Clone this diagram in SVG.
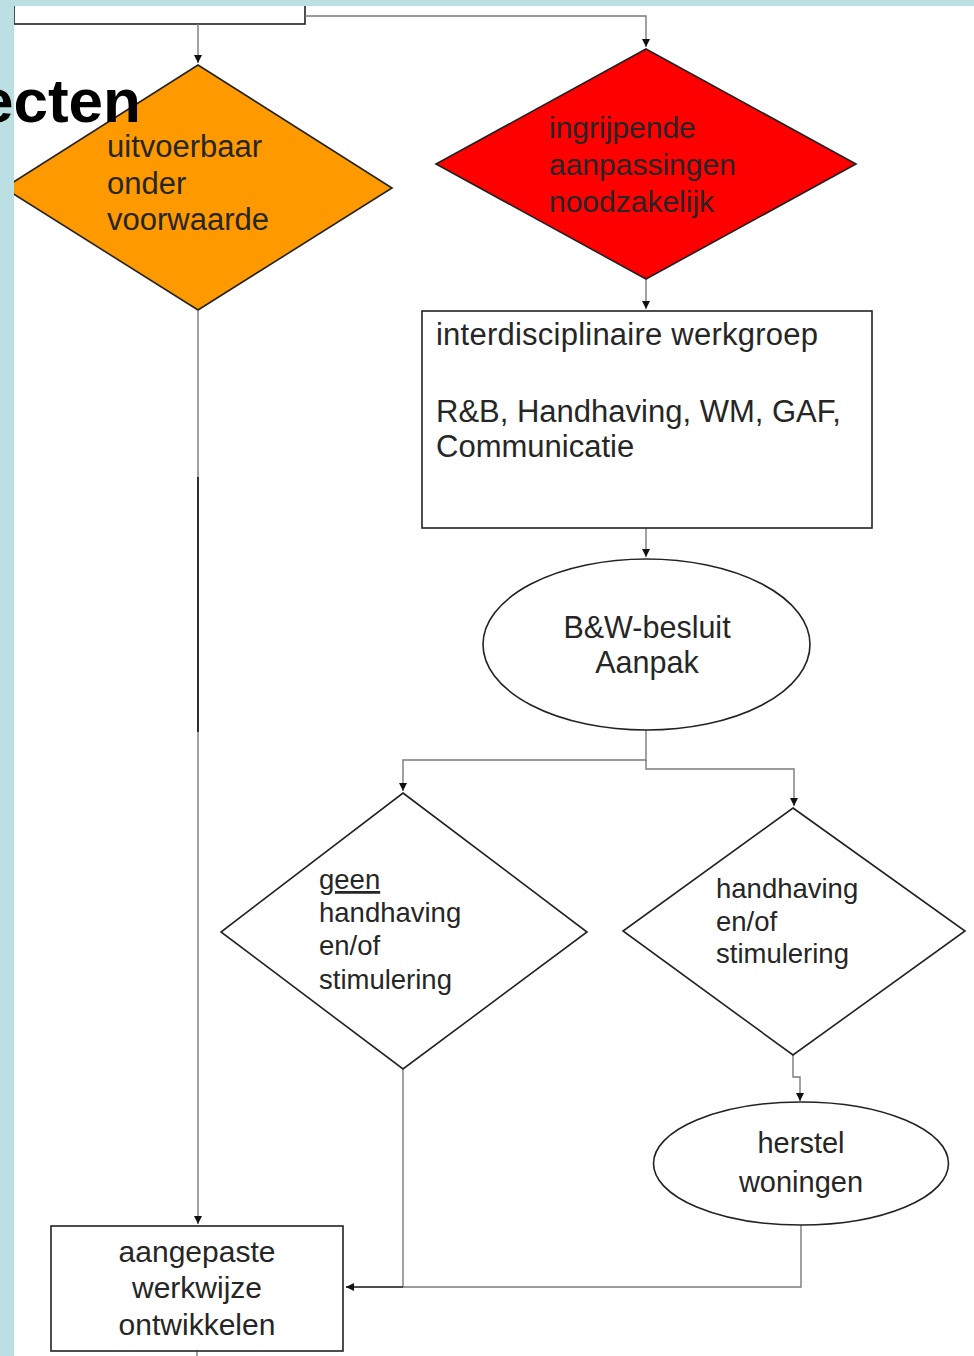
<svg xmlns="http://www.w3.org/2000/svg" width="974" height="1356" viewBox="0 0 974 1356">
<style>
  .shape { stroke: #222; stroke-width: 1.6; }
  .conn { fill: none; stroke: #7a7a7a; stroke-width: 1.4; }
  .dark { fill: none; stroke: #111; stroke-width: 1.6; }
  .lbl { font-family: "Liberation Sans", Arial, sans-serif; fill: #262626; }
  .title { font-family: "Liberation Sans", Arial, sans-serif; font-weight: bold; font-size: 62px; fill: #000; }
</style>
<defs>
  <marker id="arr" viewBox="0 0 8 8" markerWidth="8" markerHeight="8" markerUnits="userSpaceOnUse" refX="8" refY="4" orient="auto">
    <path d="M0,0 L8,4 L0,8 z" fill="#111"/>
  </marker>
</defs>
<rect x="0" y="0" width="974" height="1356" fill="#ffffff"/>

<g id="top-box">
  <rect x="14" y="-20" width="291" height="44" fill="#ffffff" class="shape"/>
</g>

<g id="connectors">
  <path class="conn" d="M198,24 V63" marker-end="url(#arr)"/>
  <path class="conn" d="M305,16 H646 V47" marker-end="url(#arr)"/>
  <path class="conn" d="M646,279 V309" marker-end="url(#arr)"/>
  <path class="conn" d="M646,528 V557" marker-end="url(#arr)"/>
  <path class="conn" d="M198,311 V1224" marker-end="url(#arr)"/>
  <path class="dark" d="M198,477 V732"/>
  <path class="conn" d="M646,730 V760 H403 V791" marker-end="url(#arr)"/>
  <path class="conn" d="M646,760 V769 H794 V806" marker-end="url(#arr)"/>
  <path class="conn" d="M793,1055 V1077 H800 V1101" marker-end="url(#arr)"/>
  <path class="conn" d="M403,1069 V1287"/>
  <path class="conn" d="M801,1225 V1287 H403"/>
  <path class="dark" d="M403,1287 H346" marker-end="url(#arr)"/>
  <path class="conn" d="M197,1351 V1356"/>
</g>

<g id="node-uitvoerbaar">
  <polygon points="198,65 392,188 198,310 4,188" fill="#ff9900" class="shape"/>
  <text class="lbl" font-size="31" x="107" y="157">uitvoerbaar</text>
  <text class="lbl" font-size="31" x="107" y="194">onder</text>
  <text class="lbl" font-size="31" x="107" y="230">voorwaarde</text>
</g>

<g id="node-ingrijpende">
  <polygon points="646,49 856,164 646,279 436,164" fill="#ff0000" class="shape"/>
  <text class="lbl" font-size="30" x="549" y="138" fill="#220000">ingrijpende</text>
  <text class="lbl" font-size="30" x="549" y="175" fill="#220000">aanpassingen</text>
  <text class="lbl" font-size="30" x="549" y="212" fill="#220000">noodzakelijk</text>
</g>

<g id="node-werkgroep">
  <rect x="422" y="311" width="450" height="217" fill="#ffffff" class="shape"/>
  <text class="lbl" font-size="31" x="436" y="345" textLength="382" lengthAdjust="spacing">interdisciplinaire werkgroep</text>
  <text class="lbl" font-size="31" x="436" y="422">R&amp;B, Handhaving, WM, GAF,</text>
  <text class="lbl" font-size="31" x="436" y="457">Communicatie</text>
</g>

<g id="node-besluit">
  <ellipse cx="646.5" cy="644.5" rx="163.5" ry="85.5" fill="#ffffff" class="shape"/>
  <text class="lbl" font-size="30.5" x="647" y="638" text-anchor="middle">B&amp;W-besluit</text>
  <text class="lbl" font-size="30.5" x="647" y="673" text-anchor="middle">Aanpak</text>
</g>

<g id="node-geen">
  <polygon points="403,793 587,932 403,1069 221,932" fill="#ffffff" class="shape"/>
  <text class="lbl" font-size="27.5" x="319" y="889" text-decoration="underline">geen</text>
  <text class="lbl" font-size="27.5" x="319" y="922">handhaving</text>
  <text class="lbl" font-size="27.5" x="319" y="955">en/of</text>
  <text class="lbl" font-size="27.5" x="319" y="989">stimulering</text>
</g>

<g id="node-handhaving">
  <polygon points="793,808 965,931 793,1055 623,931" fill="#ffffff" class="shape"/>
  <text class="lbl" font-size="27.5" x="716" y="898">handhaving</text>
  <text class="lbl" font-size="27.5" x="716" y="931">en/of</text>
  <text class="lbl" font-size="27.5" x="716" y="963">stimulering</text>
</g>

<g id="node-herstel">
  <ellipse cx="801" cy="1163.5" rx="147.5" ry="61.5" fill="#ffffff" class="shape"/>
  <text class="lbl" font-size="29" x="801" y="1153" text-anchor="middle">herstel</text>
  <text class="lbl" font-size="29" x="801" y="1192" text-anchor="middle">woningen</text>
</g>

<g id="node-aangepaste">
  <rect x="51" y="1226" width="292" height="125" fill="#ffffff" class="shape"/>
  <text class="lbl" font-size="30" x="197" y="1262" text-anchor="middle">aangepaste</text>
  <text class="lbl" font-size="30" x="197" y="1298" text-anchor="middle">werkwijze</text>
  <text class="lbl" font-size="30" x="197" y="1335" text-anchor="middle">ontwikkelen</text>
</g>

<g id="background-frame">
  <rect x="0" y="0" width="974" height="6" fill="#bbdfe3"/>
  <rect x="0" y="0" width="14" height="1356" fill="#bbdfe3"/>
</g>

<text class="title" x="-21" y="122">ecten</text>
</svg>
